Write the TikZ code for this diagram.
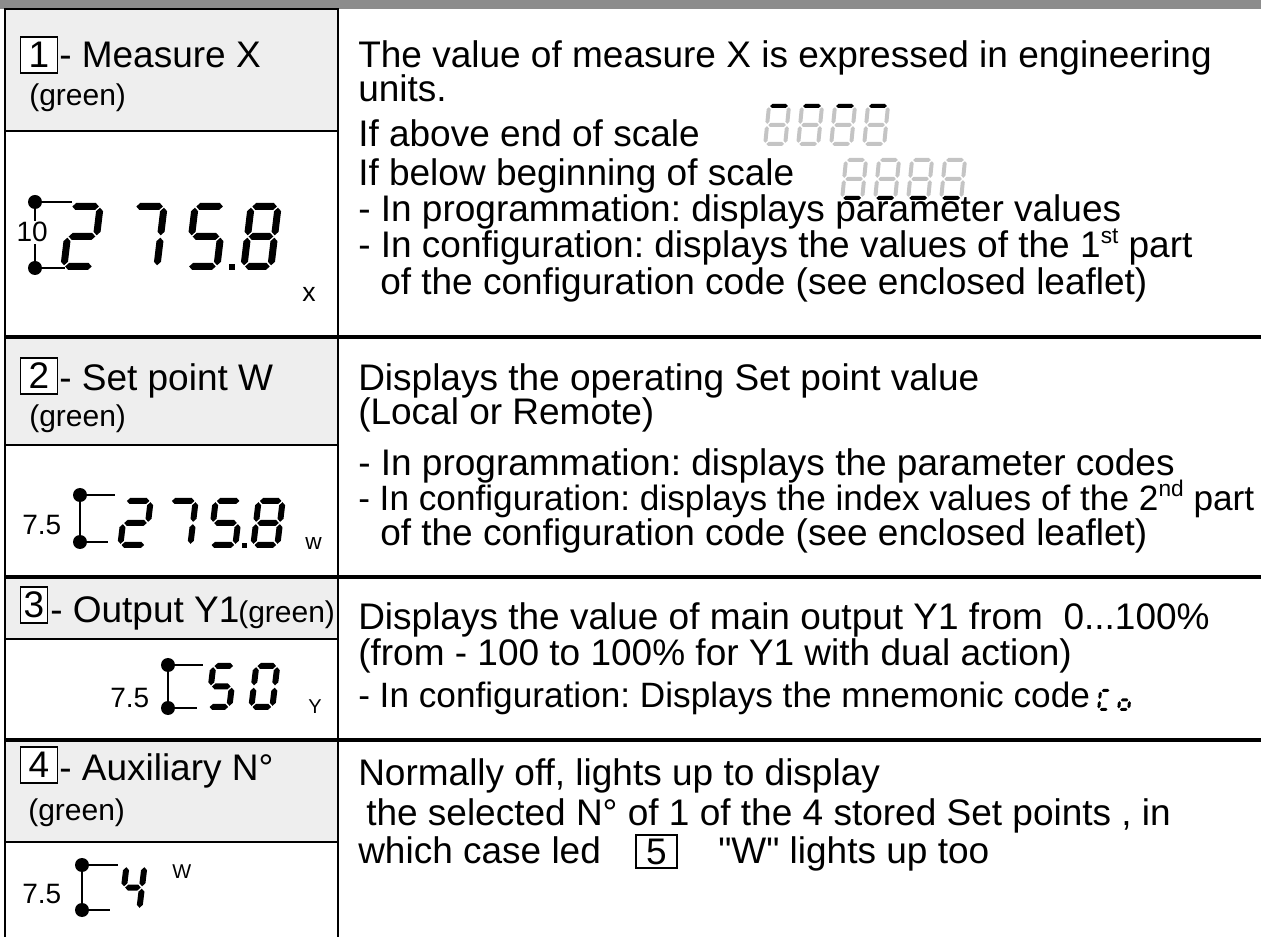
\documentclass[tikz,border=0pt]{standalone}
\usepackage{fontspec}
\setmainfont{Liberation Sans}
\newfontfamily\plainf{Liberation Sans}
\definecolor{bargray}{HTML}{8C8C8C}
\definecolor{hdrgray}{HTML}{EEEEEE}
\definecolor{seggray}{HTML}{C4C4C4}
\newcommand\fsz[1]{\fontsize{#1}{#1}\selectfont}
\newcommand\sups[1]{\raisebox{0.4em}{\fsz{17}#1}}
\newcommand\dq{{\plainf\char34}}
% seven segment helpers (local units: px, y down, bottom-left of digit at origin)
\newcommand\hseg[4]{\fill[#4] (#2,#1) -- (#2+\sT/2,#1-\sT/2) -- (#3-\sT/2,#1-\sT/2) -- (#3,#1) -- (#3-\sT/2,#1+\sT/2) -- (#2+\sT/2,#1+\sT/2) -- cycle;}
\newcommand\vseg[4]{\fill[#4] (#1,#2) -- (#1+\sT/2,#2+\sT/2) -- (#1+\sT/2,#3-\sT/2) -- (#1,#3) -- (#1-\sT/2,#3-\sT/2) -- (#1-\sT/2,#2+\sT/2) -- cycle;}
\newcommand\sega[1]{\hseg{-\sH+\sT/2}{\sT/2+\sG}{\sW-\sT/2-\sG}{#1}}
\newcommand\segg[1]{\hseg{-\sH/2}{\sT/2+\sG}{\sW-\sT/2-\sG}{#1}}
\newcommand\segd[1]{\hseg{-\sT/2}{\sT/2+\sG}{\sW-\sT/2-\sG}{#1}}
\newcommand\segf[1]{\vseg{\sT/2}{-\sH+\sT/2+\sG}{-\sH/2-\sG}{#1}}
\newcommand\segb[1]{\vseg{\sW-\sT/2}{-\sH+\sT/2+\sG}{-\sH/2-\sG}{#1}}
\newcommand\sege[1]{\vseg{\sT/2}{-\sH/2+\sG}{-\sT/2-\sG}{#1}}
\newcommand\segc[1]{\vseg{\sW-\sT/2}{-\sH/2+\sG}{-\sT/2-\sG}{#1}}
% #1 x0, #2 ybottom, #3 width, #4 height, #5 thickness, #6 slant, #7 colour, #8 segments
\newcommand\sevseg[8]{\begin{scope}[shift={(#1,#2)},xslant=#6]\def\sW{#3}\def\sH{#4}\def\sT{#5}\def\sG{1.2}\foreach \s in {#8}{\csname seg\s\endcsname{#7}}\end{scope}}
\begin{document}
\frenchspacing
\begin{tikzpicture}[x=0.75pt,y=-0.75pt,
  thinl/.style={line width=1.1pt},
  sepl/.style={line width=2.4pt},
  hdr/.style={fill=hdrgray, draw=black, line width=1.1pt},
  txt/.style={anchor=base west, inner sep=0pt, font=\fsz{27.75}},
  txtn/.style={anchor=base west, inner sep=0pt, font=\fsz{26.4}},
  grn/.style={anchor=base west, inner sep=0pt, font=\fsz{22.5}},
  lbl/.style={anchor=base west, inner sep=0pt, font=\fsz{21}},
  numbox/.style={draw=black, line width=0.9pt, fill=white, minimum width=27.75pt, minimum height=27pt, inner sep=0pt, font=\fsz{27.75}},
  dot/.style={circle, fill=black, minimum size=10.5pt, inner sep=0pt},
]
\useasboundingbox (0,0) rectangle (1261,937);
% frame
\fill[bargray] (0,0) rectangle (1261,9);
\draw[hdr] (5,9) rectangle (338,131);
\draw[hdr] (5,337) rectangle (338,445);
\draw[hdr] (5,577) rectangle (338,639);
\draw[hdr] (5,740) rectangle (338,842);
\draw[thinl] (5,9) -- (5,937);
\draw[thinl] (338,9) -- (338,937);
\draw[sepl] (5,337) -- (1261,337);
\draw[sepl] (5,577) -- (1261,577);
\draw[sepl] (5,740) -- (1261,740);

% ---------- row 1
\node[numbox] (b1) at (39,55) {1};
\node[txt] (h1) at (59,68) {- Measure X};
\node[grn] (g1) at (29,106) {(green)};
\node[dot] (d1a) at (35,202) {};
\node[dot] (d1b) at (35,268) {};
\coordinate (e1a) at (72,202);
\coordinate (e1b) at (65,268);
\draw[thinl] (d1a.center) -- (e1a);
\draw[thinl] (d1b.center) -- (e1b);
\draw[thinl] (d1a.center) -- (d1b.center);
\node[lbl, fill=white, inner sep=1pt] (l1) at (15,242) {10};
\sevseg{60}{270}{36}{67}{7}{0.12}{black}{a,b,g,e,d}
\sevseg{124}{270}{36}{67}{7}{0.12}{black}{a,b,c}
\sevseg{184}{270}{36}{67}{7}{0.12}{black}{a,f,g,c,d}
\fill (229,270) rectangle (235,264);
\sevseg{240}{270}{34}{67}{7}{0.12}{black}{a,b,c,d,e,f,g}
\node[anchor=base west, inner sep=0pt, font=\fsz{20}] (x1) at (302,302) {x};

\node[txt] (r1a) at (358,68) {The value of measure X is expressed in engineering};
\node[txt] (r1b) at (358,102) {units.};
\node[txt] (r1c) at (358,147) {If above end of scale};
\node[txt] (r1d) at (358,186) {If below beginning of scale};
\node[txt] (r1e) at (358,222) {- In programmation: displays parameter values};
\node[txt] (r1f) at (358,258) {- In configuration: displays the values of the 1\sups{st} part};
\node[txt] (r1g) at (380,295) {of the configuration code (see enclosed leaflet)};
\foreach \i in {0,1,2,3}{
  \sevseg{763+33*\i}{146}{24}{42}{4}{0.1}{seggray}{a,b,c,d,e,f,g}
  \sevseg{763+33*\i}{146}{24}{42}{4}{0.1}{black}{a}
  \sevseg{840+33*\i}{200}{24}{42}{4}{0.1}{seggray}{a,b,c,d,e,f,g}
  \sevseg{840+33*\i}{200}{24}{42}{4}{0.1}{black}{d}
}

% ---------- row 2
\node[numbox] (b2) at (39,376) {2};
\node[txt] (h2) at (59,391) {- Set point W};
\node[grn] (g2) at (29,427) {(green)};
\node[dot] (d2a) at (80,495) {};
\node[dot] (d2b) at (80,542) {};
\coordinate (e2a) at (115,495);
\coordinate (e2b) at (108,542);
\draw[thinl] (d2a.center) -- (e2a);
\draw[thinl] (d2b.center) -- (e2b);
\draw[thinl] (d2a.center) -- (d2b.center);
\node[lbl] (l2) at (22,535) {7.5};
\sevseg{117}{548}{31}{50}{6}{0.12}{black}{a,b,g,e,d}
\sevseg{162}{548}{31}{50}{6}{0.12}{black}{a,b,c}
\sevseg{207}{548}{31}{50}{6}{0.12}{black}{a,f,g,c,d}
\fill (242,548) rectangle (247,543);
\sevseg{250}{548}{30}{50}{6}{0.12}{black}{a,b,c,d,e,f,g}
\node[anchor=base west, inner sep=0pt, font=\fsz{17}] (w2) at (305,550) {w};

\node[txt] (r2a) at (358,391) {Displays the operating Set point value};
\node[txt] (r2b) at (358,425) {(Local or Remote)};
\node[txt] (r2c) at (358,476) {- In programmation: displays the parameter codes};
\node[txtn] (r2d) at (358,511) {- In configuration: displays the index values of the 2\sups{nd} part};
\node[txt] (r2e) at (380,546) {of the configuration code (see enclosed leaflet)};

% ---------- row 3
\node[numbox, minimum width=20.25pt] (b3) at (34,605) {3};
\node[txt] (h3) at (50,623) {- Output Y1};
\node[grn] (g3) at (238,623) {(green)};
\node[dot] (d3a) at (168,665) {};
\node[dot] (d3b) at (168,708) {};
\coordinate (e3a) at (203,665);
\coordinate (e3b) at (197,708);
\draw[thinl] (d3a.center) -- (e3a);
\draw[thinl] (d3b.center) -- (e3b);
\draw[thinl] (d3a.center) -- (d3b.center);
\node[lbl] (l3) at (110,708) {7.5};
\sevseg{205}{710}{27}{47}{6}{0.12}{black}{a,f,g,c,d}
\sevseg{248}{710}{27}{47}{6}{0.12}{black}{a,b,c,d,e,f}
\node[anchor=base west, inner sep=0pt, font=\fsz{15}] (y3) at (308,714) {Y};

\node[txt] (r3a) at (358,630) {Displays the value of main output Y1 from \ 0...100\%};
\node[txt] (r3b) at (358,666) {(from - 100 to 100\% for Y1 with dual action)};
\node[txtn] (r3c) at (358,708) {- In configuration: Displays the mnemonic code};
\sevseg{1097}{711}{13}{22}{3}{0.1}{black}{a,f,e,d}
\sevseg{1117}{711}{13}{22}{3}{0.1}{black}{g,c,d,e}

% ---------- row 4
\node[numbox] (b4) at (39,765) {4};
\node[txt] (h4) at (59,780) {- Auxiliary N°};
\node[grn] (g4) at (28,820) {(green)};
\node[dot] (d4a) at (82,865) {};
\node[dot] (d4b) at (82,910) {};
\coordinate (e4a) at (118,865);
\coordinate (e4b) at (110,910);
\draw[thinl] (d4a.center) -- (e4a);
\draw[thinl] (d4b.center) -- (e4b);
\draw[thinl] (d4a.center) -- (d4b.center);
\node[lbl] (l4) at (22,903) {7.5};
\sevseg{118}{912}{24}{49}{6}{0.12}{black}{f,g,b,c}
\node[anchor=base west, inner sep=0pt, font=\fsz{15}] (w4) at (172,878) {W};

\node[txt] (r4a) at (358,785) {Normally off, lights up to display};
\node[txt] (r4b) at (366,825) {the selected N° of 1 of the 4 stored Set points , in};
\node[txt] (r4c) at (358,863) {which case led};
\node[numbox, minimum width=30.75pt, minimum height=24.75pt] (b5) at (656.5,851.5) {5};
\node[txt] (r4d) at (718,863) {\dq W\dq{} lights up too};
\end{tikzpicture}
\end{document}
